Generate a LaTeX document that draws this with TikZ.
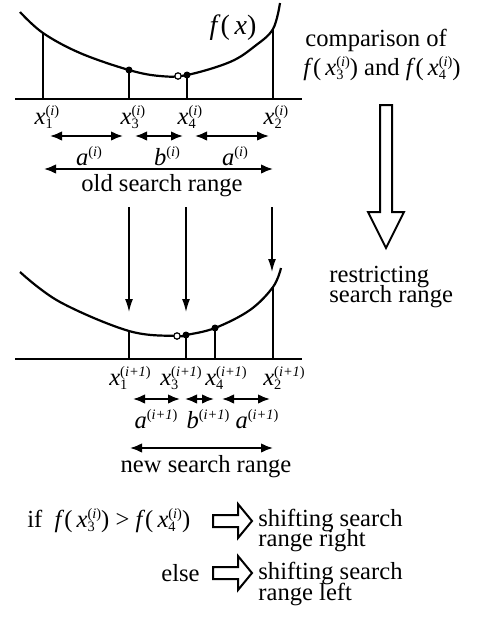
\documentclass[tikz,border=0pt]{standalone}
\usepackage{fontspec}
\setmainfont{Liberation Serif}
\usetikzlibrary{arrows.meta}
\newcommand{\supsz}{\fontsize{7.2}{8}\selectfont}
\newcommand{\xv}[2]{\textit{x}\rlap{\supsz\raisebox{-0.6ex}{#1}}{\supsz\raisebox{1.35ex}{(\textit{#2})}}}
\newcommand{\av}[2]{\textit{#1}{\supsz\raisebox{1.35ex}{(\textit{#2})}}}
\newcommand{\ip}{\textit{i}+1}
\begin{document}
\begin{tikzpicture}[x=0.5pt,y=-0.5pt,font=\fontsize{12.3}{14.5}\selectfont,
  curve/.style={line width=1.1pt},
  stem/.style={line width=0.75pt},
  axisline/.style={line width=0.75pt},
  dim/.style={{Latex[length=6pt,width=4.8pt]}-{Latex[length=6pt,width=4.8pt]},line width=1pt},
  downarr/.style={-{Latex[length=6.5pt,width=4pt]},line width=0.65pt},
  hollow/.style={line width=1pt,fill=white,line join=miter},
  lbl/.style={inner sep=0pt},
  dotf/.style={circle,fill=black,inner sep=0pt,minimum size=3.5pt},
  doto/.style={circle,draw=black,fill=white,line width=0.6pt,inner sep=0pt,minimum size=3.2pt}]
\useasboundingbox (0,0) rectangle (484,617);
% ---------- top graph ----------
\coordinate (ta0) at (15,99);
\coordinate (ta1) at (302,99);
\draw[axisline] (ta0) -- (ta1);
\draw[curve] plot[smooth,tension=0.6] coordinates {(20,12) (43,33) (80,53) (129,70) (160,76) (187,75) (230,62) (255,46) (273,29) (280,3)};
\coordinate (t1c) at (43,33);   \coordinate (t1a) at (43,99);
\coordinate (t3c) at (129,70);  \coordinate (t3a) at (129,99);
\coordinate (t4c) at (187,75);  \coordinate (t4a) at (187,99);
\coordinate (t2c) at (273,29);  \coordinate (t2a) at (273,99);
\draw[stem] (t1c) -- (t1a);
\draw[stem] (t3c) -- (t3a);
\draw[stem] (t4c) -- (t4a);
\draw[stem] (t2c) -- (t2a);
\node[dotf] (td3) at (t3c) {};
\node[dotf] (td4) at (t4c) {};
\node[doto] (tdo) at (178,76) {};
\node[lbl] (fx) at (233,28) {\fontsize{14}{16}\selectfont\textit{f}(\,\textit{x})};
\node[lbl] (lx1) at (47,117) {\xv{1}{i}};
\node[lbl] (lx3) at (133,117) {\xv{3}{i}};
\node[lbl] (lx4) at (190,117) {\xv{4}{i}};
\node[lbl] (lx2) at (276,117) {\xv{2}{i}};
% dimension arrows
\coordinate (d1a) at (50,136);  \coordinate (d1b) at (123,136);
\coordinate (d2a) at (135,136); \coordinate (d2b) at (183,136);
\coordinate (d3a) at (195,136); \coordinate (d3b) at (269,136);
\draw[dim] (d1a) -- (d1b);
\draw[dim] (d2a) -- (d2b);
\draw[dim] (d3a) -- (d3b);
\node[lbl] (la1) at (89,156) {\av{a}{i}};
\node[lbl] (lb1) at (167,156) {\av{b}{i}};
\node[lbl] (la2) at (235,156) {\av{a}{i}};
\coordinate (o1) at (44,169); \coordinate (o2) at (273,169);
\draw[dim] (o1) -- (o2);
\node[lbl] (old) at (162,186) {old search range};
% down arrows
\coordinate (v1s) at (129,207); \coordinate (v1e) at (129,312);
\coordinate (v2s) at (186,207); \coordinate (v2e) at (186,312);
\coordinate (v3s) at (272,207); \coordinate (v3e) at (272,272);
\draw[downarr] (v1s) -- (v1e);
\draw[downarr] (v2s) -- (v2e);
\draw[downarr] (v3s) -- (v3e);
% ---------- bottom graph ----------
\coordinate (ba0) at (15,359);
\coordinate (ba1) at (302,359);
\draw[axisline] (ba0) -- (ba1);
\draw[curve] plot[smooth,tension=0.6] coordinates {(20,272) (60,302) (129,331) (177,336) (186,335) (215,328) (250,310) (273,287) (281,268)};
\coordinate (b1c) at (129,331); \coordinate (b1a) at (129,359);
\coordinate (b3c) at (186,335); \coordinate (b3a) at (186,359);
\coordinate (b4c) at (215,328); \coordinate (b4a) at (215,359);
\coordinate (b2c) at (273,287); \coordinate (b2a) at (273,359);
\draw[stem] (b1c) -- (b1a);
\draw[stem] (b3c) -- (b3a);
\draw[stem] (b4c) -- (b4a);
\draw[stem] (b2c) -- (b2a);
\node[dotf] (bd3) at (b3c) {};
\node[dotf] (bd4) at (b4c) {};
\node[doto] (bdo) at (177,336) {};
\node[lbl] (mx1) at (130,378) {\xv{1}{\ip}};
\node[lbl] (mx3) at (181,378) {\xv{3}{\ip}};
\node[lbl] (mx4) at (226,378) {\xv{4}{\ip}};
\node[lbl] (mx2) at (284,378) {\xv{2}{\ip}};
\coordinate (e1a) at (133,399); \coordinate (e1b) at (180,399);
\coordinate (e2a) at (185,399); \coordinate (e2b) at (214,399);
\coordinate (e3a) at (222,399); \coordinate (e3b) at (270,399);
\draw[dim] (e1a) -- (e1b);
\draw[dim] (e2a) -- (e2b);
\draw[dim] (e3a) -- (e3b);
\node[lbl] (ma1) at (156,419) {\av{a}{\ip}};
\node[lbl] (mb1) at (208,419) {\av{b}{\ip}};
\node[lbl] (ma2) at (257,419) {\av{a}{\ip}};
\coordinate (n1) at (130,448); \coordinate (n2) at (273,448);
\draw[dim] (n1) -- (n2);
\node[lbl] (new) at (206,467) {new search range};
% ---------- right side ----------
\node[lbl,anchor=west] (cmp1) at (305,40) {comparison of};
\node[lbl,anchor=west] (cmp2) at (303,69) {\textit{f}(\,\xv{3}{i}) and \textit{f}(\,\xv{4}{i})};
\draw[hollow] (380,105) -- (392,105) -- (392,212) -- (404,212) -- (386,248) -- (368,212) -- (380,212) -- cycle;
\node[lbl,anchor=west] (res1) at (329,277) {restricting};
\node[lbl,anchor=west] (res2) at (329,297) {search range};
% ---------- bottom rules ----------
\node[lbl,anchor=west] (ifc) at (27,521) {if \ \textit{f}(\,\xv{3}{i}) > \textit{f}(\,\xv{4}{i})};
\node[lbl,anchor=east] (els) at (200,573) {else};
\draw[hollow] (213,515) -- (238,515) -- (238,504) -- (252,521) -- (238,538) -- (238,527) -- (213,527) -- cycle;
\draw[hollow] (213,567) -- (238,567) -- (238,556) -- (252,573) -- (238,590) -- (238,579) -- (213,579) -- cycle;
\node[lbl,anchor=west] (sr1) at (258,520) {shifting search};
\node[lbl,anchor=west] (sr2) at (258,541) {range right};
\node[lbl,anchor=west] (sl1) at (258,573) {shifting search};
\node[lbl,anchor=west] (sl2) at (258,594) {range left};
\end{tikzpicture}
\end{document}
